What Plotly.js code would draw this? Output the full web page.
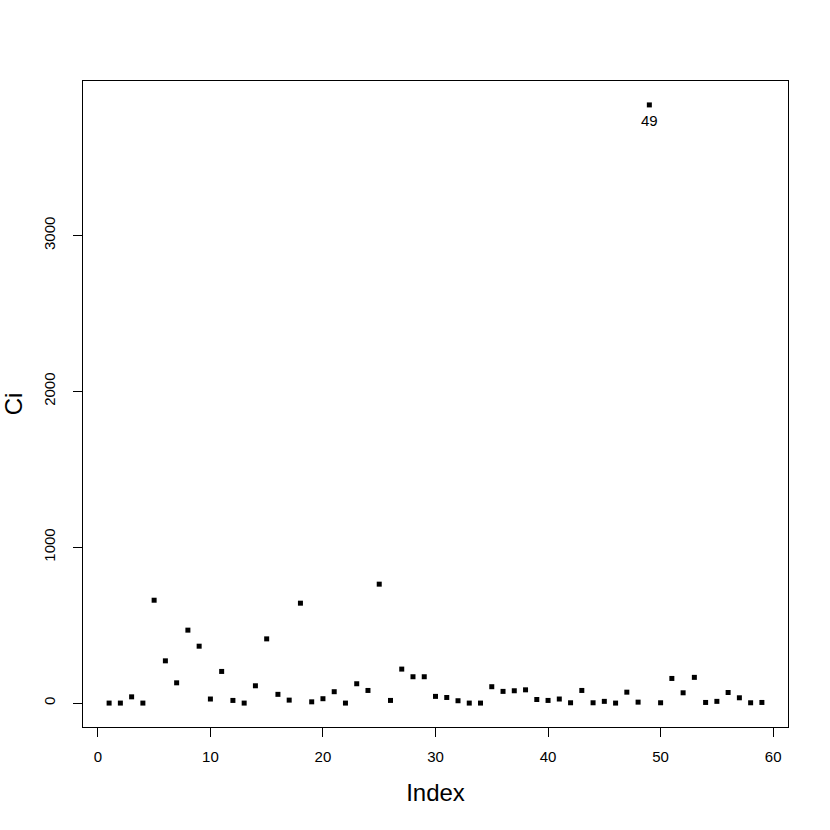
<!DOCTYPE html>
<html>
<head>
<meta charset="utf-8">
<script src="https://cdn.plot.ly/plotly-2.35.2.min.js"></script>
<style>html,body{margin:0;padding:0;background:#fff;}#chart{width:830px;height:830px;}</style>
</head>
<body>
<div id="chart"></div>
<script>
var index = [];
for (var i = 1; i <= 59; i++) index.push(i);
var ci = [0, 0, 40, 0, 660, 271, 130, 468, 365, 26,
          203, 17, 0, 111, 412, 56, 19, 641, 8, 28,
          73, 0, 124, 81, 763, 17, 218, 169, 169, 43,
          36, 15, 0, 0, 105, 75, 79, 85, 23, 17,
          26, 2, 81, 2, 11, 0, 70, 6, 3838, 2,
          158, 66, 165, 4, 11, 68, 34, 2, 4];
var labelIdx = [49];

var fontFam = 'Liberation Sans, Arial, sans-serif';
var traces = [
  {x: index, y: ci, type: 'scatter', mode: 'markers',
   marker: {symbol: 'square', size: 5, color: '#000'}, hoverinfo: 'x+y'}
];
var annotations = labelIdx.map(function(k){
  return {x: k, y: ci[k-1], xref: 'x', yref: 'y', text: String(k), showarrow: false,
          yanchor: 'top', yshift: -5, font: {family: fontFam, size: 15, color: '#000'}};
});
var layout = {
  width: 830, height: 830,
  margin: {l: 83, r: 42, t: 81, b: 103},
  paper_bgcolor: '#fff', plot_bgcolor: '#fff',
  showlegend: false,
  font: {family: fontFam, color: '#000'},
  annotations: annotations,
  xaxis: {range: [-1.32, 61.32], tickvals: [0,10,20,30,40,50,60], ticks: 'outside', ticklen: 9,
          tickcolor: '#000', showgrid: false, zeroline: false, showline: true, mirror: true,
          linecolor: '#000', linewidth: 1, tickfont: {size: 15}, ticklabelstandoff: 7,
          title: {text: 'Index', font: {size: 24}, standoff: 20}},
  yaxis: {range: [-153.5, 3991.5], tickvals: [0,1000,2000,3000], ticks: 'outside', ticklen: 9,
          tickcolor: '#000', showgrid: false, zeroline: false, showline: true, mirror: true,
          linecolor: '#000', linewidth: 1, tickangle: -90, tickfont: {size: 15}, ticklabelstandoff: 12,
          title: {text: 'Ci', font: {size: 24}, standoff: 18}}
};
Plotly.newPlot('chart', traces, layout, {displayModeBar: false, staticPlot: true});
</script>
</body>
</html>
